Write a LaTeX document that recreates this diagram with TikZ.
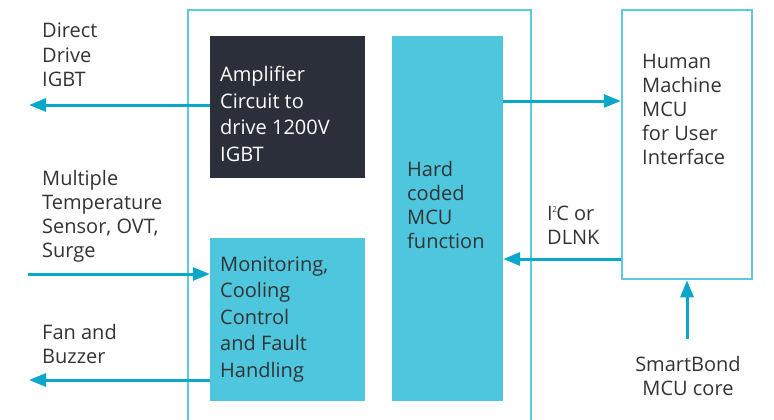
\documentclass[tikz,border=0pt]{standalone}
\usepackage{fontspec}
\setmainfont{Open Sans}
\usetikzlibrary{arrows.meta}
\definecolor{boxblue}{HTML}{4EC6DD}
\definecolor{lineblue}{HTML}{5BCADF}
\definecolor{arrowblue}{HTML}{0AA7CC}
\definecolor{boxdark}{HTML}{2B2F3A}
\definecolor{txt}{HTML}{333333}
\begin{document}
\begin{tikzpicture}[x=1pt,y=-1pt,
  font=\fontsize{20}{24}\selectfont,
  every node/.style={text=txt},
  block/.style={rectangle,inner sep=0pt},
  label/.style={anchor=base west,align=left,inner sep=0pt},
  flow/.style={draw=arrowblue,line width=3pt,-{Triangle[length=17pt,width=13pt]}}]
\useasboundingbox (0,0) rectangle (774,420);
% outer chip
\path[draw=lineblue,line width=2.5pt] (188,10) rectangle (531,440);
% blocks
\node[block,fill=boxdark,minimum width=155pt,minimum height=142pt] (amp) at (287.5,107) {};
\node[block,fill=boxblue,minimum width=155pt,minimum height=163pt] (mon) at (287.5,319.5) {};
\node[block,fill=boxblue,minimum width=111pt,minimum height=365pt] (hard) at (447.5,218.5) {};
\node[block,draw=lineblue,line width=2.5pt,fill=white,minimum width=130pt,minimum height=269pt] (hmi) at (687,144.5) {};
% texts (anchored at the baseline of the last line)
\node[label,text=white,font=\fontsize{20}{26.5}\selectfont] (amptxt) at (220,161) {Amplifier\\Circuit to\\drive 1200V\\IGBT};
\node[label,font=\fontsize{20}{26.5}\selectfont] (montxt) at (220,377) {Monitoring,\\Cooling\\Control\\and Fault\\Handling};
\node[label] (hardtxt) at (407,248) {Hard\\coded\\MCU\\function};
\node[label] (hmitxt) at (642,164) {Human\\Machine\\MCU\\for User\\Interface};
\node[label] (igbttxt) at (42,86) {Direct\\Drive\\IGBT};
\node[label] (temptxt) at (42,257) {Multiple\\Temperature\\Sensor, OVT,\\Surge};
\node[label] (fantxt) at (42,363) {Fan and\\Buzzer};
\node[label] (bustxt) at (547,244) {I\kern-0.5pt\raisebox{8pt}{\fontsize{8}{8}\selectfont 2}\kern-0.5pt C or\\DLNK};
\node[anchor=base,align=center,inner sep=0pt] (coretxt) at (688,395) {SmartBond\\MCU core};
% free ends
\coordinate (igbt) at (29,105);
\coordinate (temp) at (28,274);
\coordinate (fan) at (29,380);
\coordinate (core) at (687,339);
% connectors
\draw[flow] (amp.west |- igbt) -- (igbt);
\draw[flow] (temp) -- (temp -| mon.west);
\draw[flow] (mon.west |- fan) -- (fan);
\draw[flow] (hard.east |- {0,101}) -- (hmi.west |- {0,101});
\draw[flow] (hmi.west |- {0,259}) -- (hard.east |- {0,259});
\draw[flow] (core) -- (hmi.south);
\end{tikzpicture}
\end{document}
